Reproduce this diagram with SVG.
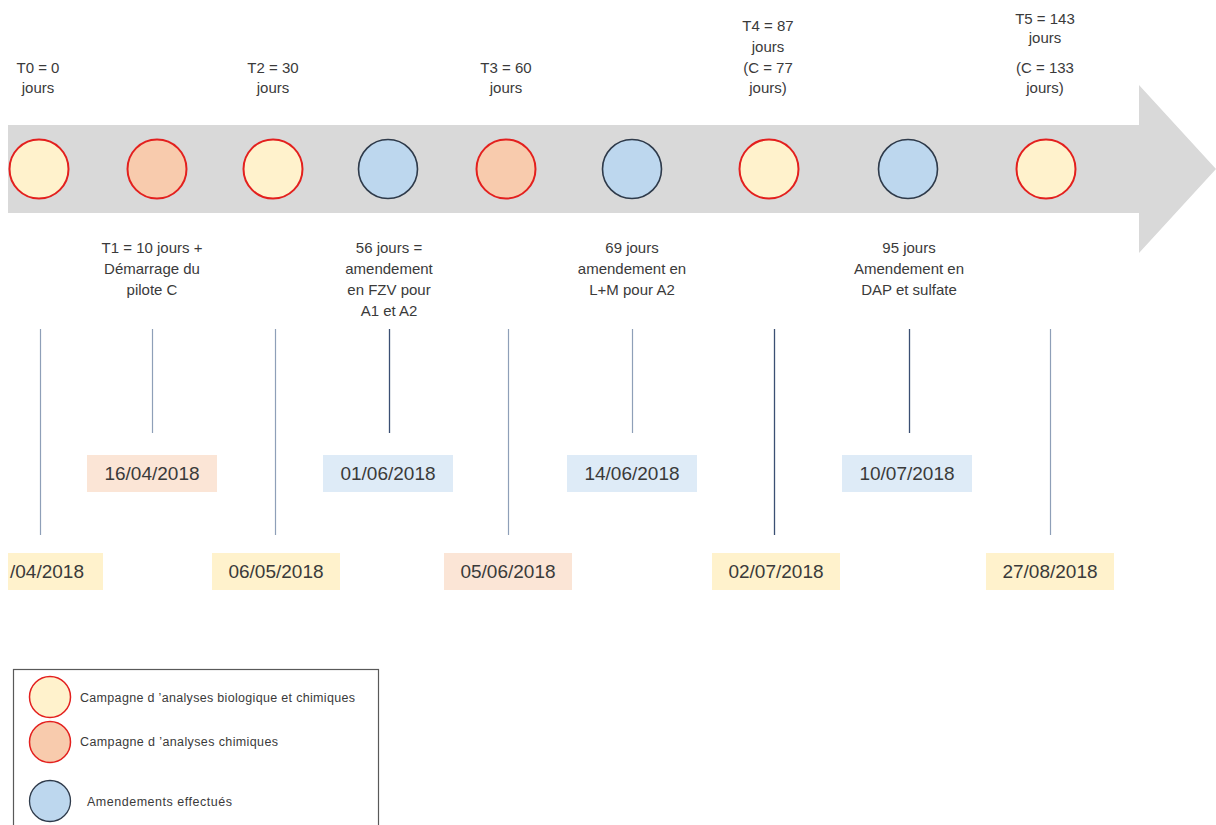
<svg xmlns="http://www.w3.org/2000/svg" width="1216" height="825" viewBox="0 0 1216 825">
<style>
text{font-family:"Liberation Sans",Arial,sans-serif;fill:#3a3a3a;text-anchor:middle}
.lbl{font-size:15px}
.date{font-size:19px}
.leg{font-size:12.5px;text-anchor:start}
.bio{fill:#FFF2CC;stroke:#E3201E;stroke-width:2}
.chi{fill:#F8CBAD;stroke:#E3201E;stroke-width:2}
.ame{fill:#BDD7EE;stroke:#2E3A4A;stroke-width:1.6}
.by{fill:#FFF2CC}.bo{fill:#FBE5D6}.bb{fill:#DEEBF7}
.ln{stroke:#8E9FB8;stroke-width:1.2}
.ld{stroke:#3B4F73;stroke-width:1.3}
</style>
<rect width="1216" height="825" fill="#fff"/>
<g id="arrow">
<polygon points="8,125 1139,125 1139,85 1216,169 1139,253 1139,213 8,213" fill="#D9D9D9"/>
</g>
<g id="connectors">
<line class="ln" x1="40.5" y1="329" x2="40.5" y2="535"/>
<line class="ln" x1="152.5" y1="329" x2="152.5" y2="433"/>
<line class="ln" x1="275.5" y1="329" x2="275.5" y2="535"/>
<line class="ld" x1="389.5" y1="329" x2="389.5" y2="433"/>
<line class="ln" x1="508.5" y1="329" x2="508.5" y2="535"/>
<line class="ln" x1="632.5" y1="329" x2="632.5" y2="433"/>
<line class="ld" x1="774.5" y1="329" x2="774.5" y2="535"/>
<line class="ld" x1="909.5" y1="329" x2="909.5" y2="433"/>
<line class="ln" x1="1050.5" y1="329" x2="1050.5" y2="535"/>
</g>
<g id="t0">
<circle class="bio" cx="39" cy="169" r="29.5"/>
<text class="lbl" x="38" y="73">T0 = 0</text><text class="lbl" x="38" y="93">jours</text>
<rect class="by" x="8" y="553" width="95" height="37"/>
<text class="date" x="10" y="578" style="text-anchor:start">/04/2018</text>
</g>
<g id="t1">
<circle class="chi" cx="157" cy="169" r="29.5"/>
<text class="lbl" x="152" y="253">T1 = 10 jours +</text>
<text class="lbl" x="152" y="274">Démarrage du</text>
<text class="lbl" x="152" y="295">pilote C</text>
<rect class="bo" x="87" y="455" width="130" height="37"/>
<text class="date" x="152" y="480">16/04/2018</text>
</g>
<g id="t2">
<circle class="bio" cx="273" cy="169" r="29.5"/>
<text class="lbl" x="273" y="73">T2 = 30</text><text class="lbl" x="273" y="93">jours</text>
<rect class="by" x="212" y="553" width="128" height="37"/>
<text class="date" x="276" y="578">06/05/2018</text>
</g>
<g id="a1">
<circle class="ame" cx="388" cy="169" r="29.5"/>
<text class="lbl" x="389" y="253">56 jours =</text>
<text class="lbl" x="389" y="274">amendement</text>
<text class="lbl" x="389" y="295">en FZV pour</text>
<text class="lbl" x="389" y="316">A1 et A2</text>
<rect class="bb" x="323" y="455" width="130" height="37"/>
<text class="date" x="388" y="480">01/06/2018</text>
</g>
<g id="t3">
<circle class="chi" cx="506" cy="169" r="29.5"/>
<text class="lbl" x="506" y="73">T3 = 60</text><text class="lbl" x="506" y="93">jours</text>
<rect class="bo" x="444" y="553" width="128" height="37"/>
<text class="date" x="508" y="578">05/06/2018</text>
</g>
<g id="a2">
<circle class="ame" cx="632" cy="169" r="29.5"/>
<text class="lbl" x="632" y="253">69 jours</text>
<text class="lbl" x="632" y="274">amendement en</text>
<text class="lbl" x="632" y="295">L+M pour A2</text>
<rect class="bb" x="567" y="455" width="130" height="37"/>
<text class="date" x="632" y="480">14/06/2018</text>
</g>
<g id="t4">
<circle class="bio" cx="769" cy="169" r="29.5"/>
<text class="lbl" x="768" y="31">T4 = 87</text>
<text class="lbl" x="768" y="52">jours</text>
<text class="lbl" x="768" y="73">(C = 77</text>
<text class="lbl" x="768" y="93">jours)</text>
<rect class="by" x="712" y="553" width="128" height="37"/>
<text class="date" x="776" y="578">02/07/2018</text>
</g>
<g id="a3">
<circle class="ame" cx="908" cy="169" r="29.5"/>
<text class="lbl" x="909" y="253">95 jours</text>
<text class="lbl" x="909" y="274">Amendement en</text>
<text class="lbl" x="909" y="295">DAP et sulfate</text>
<rect class="bb" x="842" y="455" width="130" height="37"/>
<text class="date" x="907" y="480">10/07/2018</text>
</g>
<g id="t5">
<circle class="bio" cx="1046" cy="169" r="29.5"/>
<text class="lbl" x="1045" y="24">T5 = 143</text>
<text class="lbl" x="1045" y="43">jours</text>
<text class="lbl" x="1045" y="73">(C = 133</text>
<text class="lbl" x="1045" y="93">jours)</text>
<rect class="by" x="986" y="553" width="128" height="37"/>
<text class="date" x="1050" y="578">27/08/2018</text>
</g>
<g id="legend">
<rect x="13.5" y="669.5" width="365" height="170" fill="#fff" stroke="#595959" stroke-width="1.2"/>
<circle class="bio" cx="50" cy="697" r="20.5" style="stroke-width:1.5"/>
<circle class="chi" cx="50" cy="742" r="20.5" style="stroke-width:1.5"/>
<circle class="ame" cx="50" cy="801" r="20.5" style="stroke-width:1.3"/>
<text class="leg" x="80" y="702" textLength="275">Campagne d ’analyses biologique et chimiques</text>
<text class="leg" x="80" y="746" textLength="198">Campagne d ’analyses  chimiques</text>
<text class="leg" x="87" y="806" textLength="145">Amendements effectués</text>
</g>
</svg>
